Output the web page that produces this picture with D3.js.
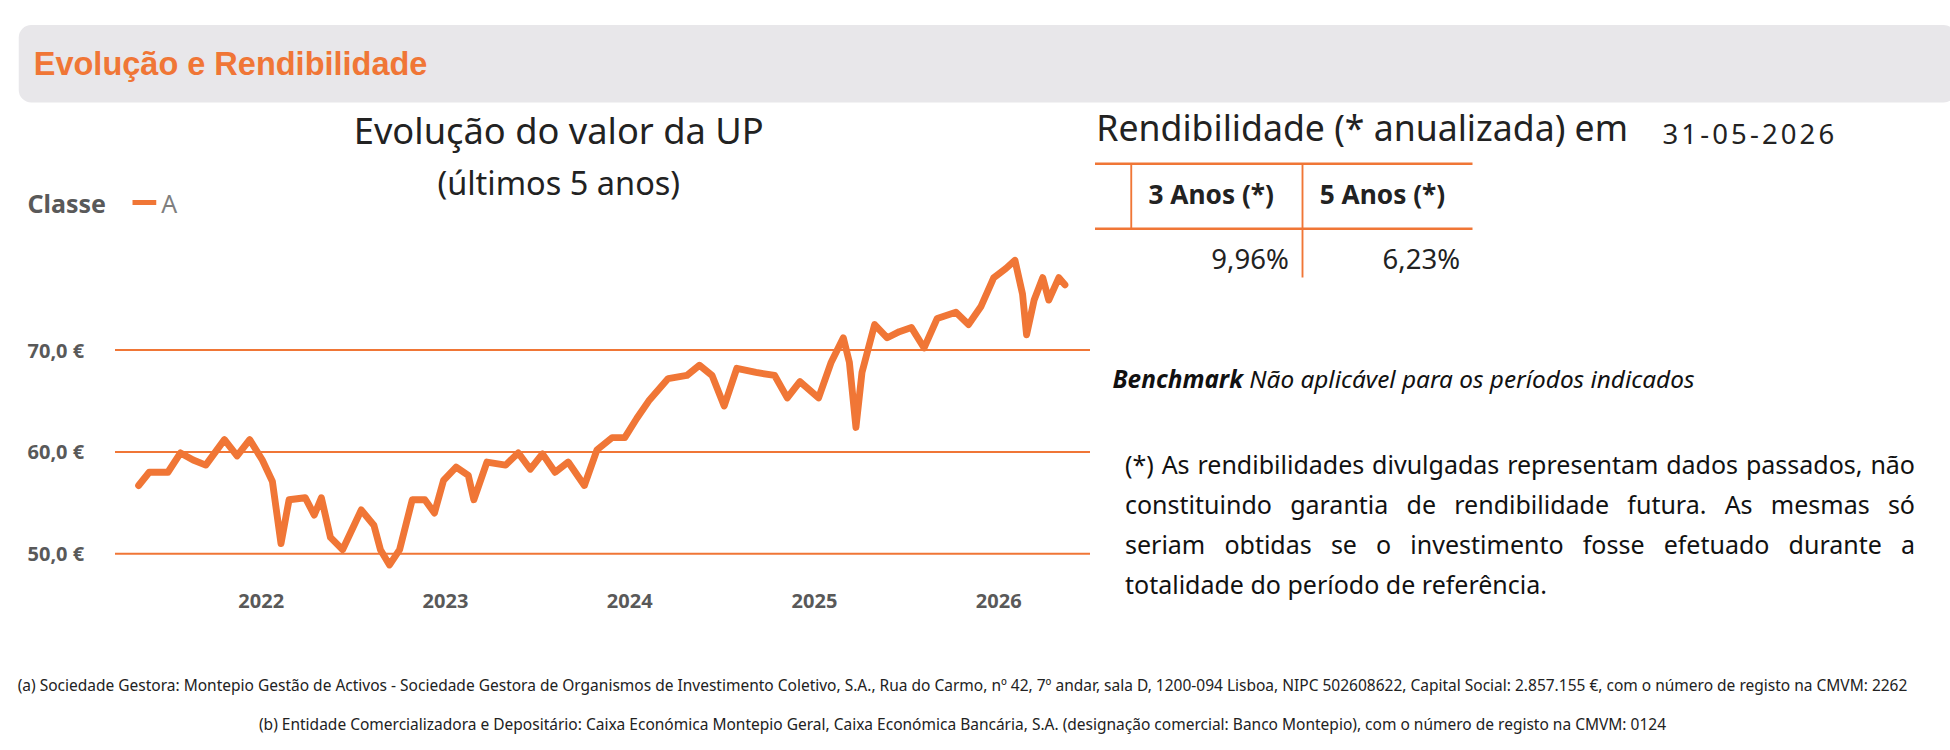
<!DOCTYPE html>
<html>
<head>
<meta charset="utf-8">
<script src="https://cdn.jsdelivr.net/npm/d3@7"></script>
<style>
  body { margin: 0; background: #fff; }
  svg text { font-family: "Noto Sans", sans-serif; }
</style>
</head>
<body>
<div id="chart"></div>
<script>
// price series (€)
const dates = ["2021-05-13","2021-06-03","2021-07-10","2021-08-04","2021-08-29","2021-09-23","2021-10-30","2021-11-24","2021-12-19",
  "2022-01-13","2022-02-02","2022-02-19","2022-03-07","2022-04-08","2022-04-26","2022-05-10","2022-05-28","2022-06-21","2022-07-28",
  "2022-08-22","2022-09-04","2022-09-22","2022-10-12","2022-11-06","2022-12-01","2022-12-20","2023-01-07","2023-02-01","2023-02-25",
  "2023-03-08","2023-04-03","2023-05-10","2023-06-04","2023-06-28","2023-07-22","2023-08-16","2023-09-11","2023-10-13","2023-11-07",
  "2023-12-07","2024-01-01","2024-01-25","2024-02-19","2024-03-27","2024-05-03","2024-05-28","2024-06-22","2024-07-16","2024-08-10",
  "2024-09-17","2024-10-24","2024-11-18","2024-12-13","2025-01-19","2025-02-13","2025-03-09","2025-03-21","2025-04-03","2025-04-15",
  "2025-05-10","2025-06-04","2025-06-28","2025-07-22","2025-08-16","2025-09-11","2025-10-18","2025-11-12","2025-12-07","2026-01-01",
  "2026-01-25","2026-02-12","2026-02-27","2026-03-07","2026-03-22","2026-04-08","2026-04-20","2026-05-10","2026-05-22"];
const values = [56.7,58.0,58.0,59.9,59.2,58.7,61.2,59.6,61.2,
  59.2,57.1,51.0,55.3,55.5,53.8,55.5,51.6,50.4,54.3,
  52.8,50.4,48.9,50.4,55.3,55.3,54.0,57.2,58.5,57.7,
  55.3,59.0,58.7,59.9,58.3,59.8,58.0,59.0,56.7,60.2,
  61.4,61.4,63.3,65.1,67.2,67.5,68.5,67.5,64.5,68.2,
  67.8,67.5,65.3,66.9,65.3,68.8,71.2,68.8,62.4,67.8,
  72.5,71.2,71.8,72.2,70.2,73.1,73.7,72.5,74.3,77.1,
  78.0,78.8,75.5,71.5,74.9,77.1,74.9,77.1,76.4];
const yTicks = [50, 60, 70];
const yearTicks = [2022, 2023, 2024, 2025, 2026];
const periods = ["3 Anos (*)", "5 Anos (*)"];
const returns = ["9,96%", "6,23%"];

const orange = "#f07636";
const series = dates.map((d, i) => ({ date: d3.timeParse("%Y-%m-%d")(d), value: values[i] }));

const svg = d3.select("#chart").append("svg")
  .attr("width", 1950).attr("height", 750)
  .attr("viewBox", "0 0 1560 600");

// header band
svg.append("rect").attr("x", 15).attr("y", 20).attr("width", 1550).attr("height", 62)
  .attr("rx", 10).attr("fill", "#e8e7ea");
svg.append("text").attr("x", 27).attr("y", 60).text("Evolução e Rendibilidade")
  .style("font-family", "Arial, 'Liberation Sans', sans-serif")
  .attr("font-size", 26).attr("font-weight", "bold").attr("fill", orange);

// chart titles
svg.append("text").attr("x", 447).attr("y", 115).attr("text-anchor", "middle")
  .attr("font-size", 29).attr("fill", "#222").text("Evolução do valor da UP");
svg.append("text").attr("x", 447).attr("y", 156).attr("text-anchor", "middle")
  .attr("font-size", 26).attr("fill", "#222").text("(últimos 5 anos)");

// legend
svg.append("text").attr("x", 22).attr("y", 170).attr("font-size", 20)
  .attr("font-weight", "bold").attr("fill", "#595959").text("Classe");
svg.append("line").attr("x1", 106).attr("x2", 125).attr("y1", 162).attr("y2", 162)
  .attr("stroke", orange).attr("stroke-width", 4);
svg.append("text").attr("x", 129).attr("y", 170).attr("font-size", 20)
  .attr("fill", "#7f7f7f").text("A");

// scales
const x = d3.scaleTime()
  .domain([new Date(2022, 0, 1), new Date(2026, 0, 1)])
  .range([205, 795]);
const y = d3.scaleLinear().domain([50, 70]).range([443, 280]);

const grid = svg.append("g");
grid.selectAll("line").data(yTicks).join("line")
  .attr("x1", 92).attr("x2", 872)
  .attr("y1", d => y(d)).attr("y2", d => y(d))
  .attr("stroke", orange).attr("stroke-width", 1.6);
grid.selectAll("text").data(yTicks).join("text")
  .attr("x", 22).attr("y", d => y(d) + 6)
  .attr("font-size", 16).attr("font-weight", "bold").attr("fill", "#595959")
  .text(d => d3.format(".1f")(d).replace(".", ",") + " €");

svg.append("g").selectAll("text").data(yearTicks).join("text")
  .attr("x", d => x(new Date(d, 0, 1)) + 4).attr("y", 486)
  .attr("text-anchor", "middle").attr("font-size", 16).attr("font-weight", "bold")
  .attr("fill", "#595959").text(d => d);

const line = d3.line().x(d => x(d.date)).y(d => y(d.value));
svg.append("path").datum(series)
  .attr("d", line).attr("fill", "none").attr("stroke", orange)
  .attr("stroke-width", 5.5).attr("stroke-linejoin", "round").attr("stroke-linecap", "round");

// rendibilidade table
svg.append("text").attr("x", 877).attr("y", 113).attr("font-size", 28.5)
  .attr("fill", "#222").text("Rendibilidade (* anualizada) em");
svg.append("text").attr("x", 1330).attr("y", 115).attr("font-size", 22)
  .attr("letter-spacing", 2.5).attr("fill", "#222").text("31-05-2026");

const tbl = svg.append("g");
[131, 183].forEach(yy => tbl.append("line").attr("x1", 876).attr("x2", 1178)
  .attr("y1", yy).attr("y2", yy).attr("stroke", orange).attr("stroke-width", 2));
tbl.append("line").attr("x1", 905).attr("x2", 905).attr("y1", 131).attr("y2", 183)
  .attr("stroke", orange).attr("stroke-width", 1.5);
tbl.append("line").attr("x1", 1042).attr("x2", 1042).attr("y1", 131).attr("y2", 222)
  .attr("stroke", orange).attr("stroke-width", 1.5);
const colCenter = [969, 1106], colRight = [1031, 1168];
tbl.selectAll(".hd").data(periods).join("text").attr("class", "hd")
  .attr("x", (d, i) => colCenter[i]).attr("y", 163).attr("text-anchor", "middle")
  .attr("font-size", 21).attr("font-weight", "bold").attr("fill", "#222").text(d => d);
tbl.selectAll(".vl").data(returns).join("text").attr("class", "vl")
  .attr("x", (d, i) => colRight[i]).attr("y", 215).attr("text-anchor", "end")
  .attr("font-size", 22).attr("fill", "#222").text(d => d);

// benchmark
const bm = svg.append("text").attr("x", 890).attr("y", 310).attr("font-size", 19.5)
  .attr("font-style", "italic").attr("fill", "#111");
bm.append("tspan").attr("font-weight", "bold").text("Benchmark");
bm.append("tspan").text(" Não aplicável para os períodos indicados");

// disclaimer paragraph
svg.append("foreignObject").attr("x", 900).attr("y", 356).attr("width", 632).attr("height", 140)
  .append("xhtml:div")
  .style("font-family", "'Noto Sans', sans-serif").style("font-size", "20px")
  .style("line-height", "32px").style("text-align", "justify").style("color", "#111")
  .text("(*) As rendibilidades divulgadas representam dados passados, não constituindo garantia de rendibilidade futura. As mesmas só seriam obtidas se o investimento fosse efetuado durante a totalidade do período de referência.");

// footnotes
const foot = svg.append("g").style("font-family", "'Open Sans', sans-serif");
foot.append("text").attr("x", 770).attr("y", 553).attr("text-anchor", "middle")
  .attr("font-size", 12.4).attr("fill", "#222")
  .text("(a) Sociedade Gestora: Montepio Gestão de Activos - Sociedade Gestora de Organismos de Investimento Coletivo, S.A., Rua do Carmo, nº 42, 7º andar, sala D, 1200-094 Lisboa, NIPC 502608622, Capital Social: 2.857.155 €, com o número de registo na CMVM: 2262");
foot.append("text").attr("x", 770).attr("y", 584).attr("text-anchor", "middle")
  .attr("font-size", 12.4).attr("fill", "#222")
  .text("(b) Entidade Comercializadora e Depositário: Caixa Económica Montepio Geral, Caixa Económica Bancária, S.A. (designação comercial: Banco Montepio), com o número de registo na CMVM: 0124");
</script>
</body>
</html>
